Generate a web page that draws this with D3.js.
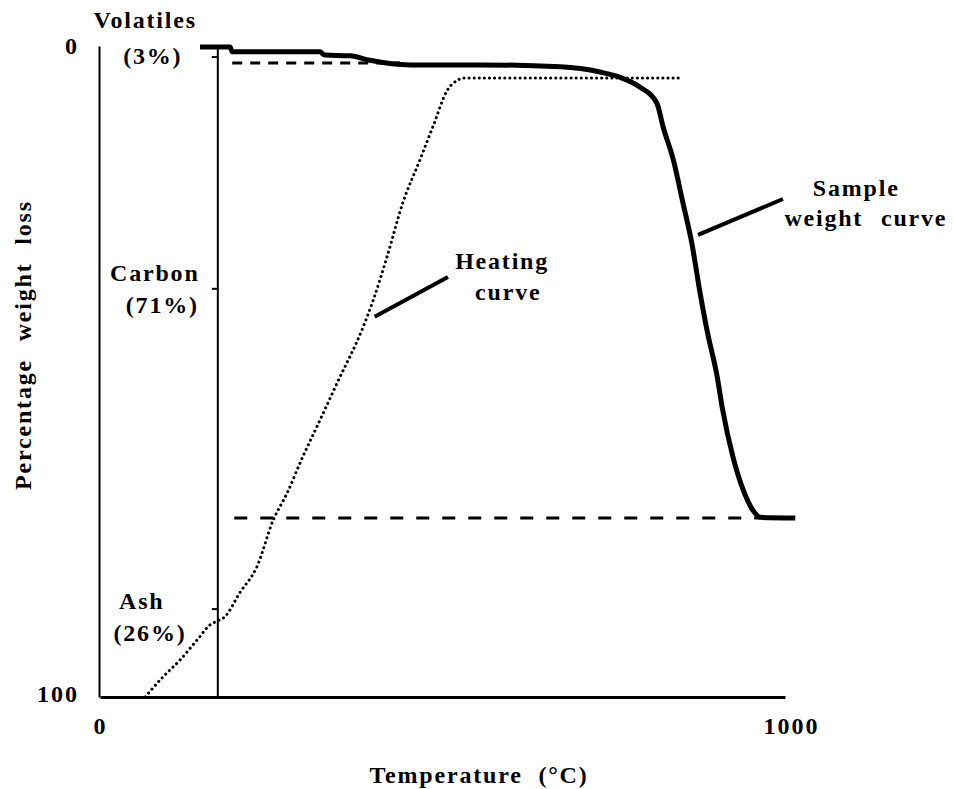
<!DOCTYPE html>
<html>
<head>
<meta charset="utf-8">
<script src="https://cdn.jsdelivr.net/npm/d3@7"></script>
<style>
  body { margin: 0; background: #fff; }
  text { font-family: "Liberation Serif", "Times New Roman", serif; font-weight: bold; fill: #000; }
</style>
</head>
<body>
<svg id="chart" width="954" height="789"></svg>
<script>
// data (temperature in degC, weight loss in %)
var sampleTemp = [146, 190, 193, 321, 328, 365, 394, 453, 555, 672, 730, 759, 788, 813, 822, 837, 851, 864, 876, 886, 901, 909, 924, 939, 953, 964, 1015];
var sampleLoss = [0.15, 0.15, 0.9, 0.9, 1.4, 1.5, 2.2, 2.9, 2.9, 3.2, 4.0, 4.8, 6.3, 8.8, 12.4, 17.5, 24.1, 30.3, 37.9, 43.6, 50.8, 55.9, 63.1, 68.2, 71.3, 72.4, 72.5];

var heatTemp = [66, 92, 117, 142, 161, 172, 182, 204, 229, 253, 273, 296, 321, 346, 384, 399, 419, 442, 467, 486, 507, 523, 530, 847];
var heatLoss = [100, 96.9, 94.3, 91.2, 88.9, 88.3, 87.7, 84.0, 80.0, 72.8, 68.7, 63.1, 57.5, 51.8, 43.2, 39.0, 32.4, 24.1, 17.5, 12.4, 6.8, 5.2, 4.9, 4.9];

// dashed reference levels
var levelLoss = [2.6, 72.5];
var levelFrom = [193, 196];
var levelTo = [438, 964];

// component bar at the left
var barTemp = 172;
var barTicks = [1.7, 37.3, 86.5];
var components = ['Volatiles', 'Carbon', 'Ash'];
var shares = ['(3%)', '(71%)', '(26%)'];

var xTicks = [0, 1000];
var yTicks = [0, 100];

var svg = d3.select('#chart');

var x = d3.scaleLinear().domain([0, 1000]).range([100, 785]);
var y = d3.scaleLinear().domain([0, 100]).range([46, 697]);

var fs = '24px';

// axes
var yAxis = svg.append('g')
    .attr('transform', 'translate(99,0)')
    .call(d3.axisLeft(y).tickValues(yTicks).tickSize(0).tickPadding(20).tickFormat(d3.format('d')));
yAxis.select('.domain').attr('stroke', '#000').attr('stroke-width', 2);
yAxis.selectAll('text').style('font-size', fs).style('letter-spacing', '2px')
    .attr('dy', (d, i) => i == 0 ? '0.3em' : '0.2em');

var xAxis = svg.append('g')
    .attr('transform', 'translate(0,697)')
    .call(d3.axisBottom(x).tickValues(xTicks).tickSize(0).tickPadding(20).tickFormat(d3.format('d')));
xAxis.select('.domain').attr('stroke', '#000').attr('stroke-width', 3);
xAxis.selectAll('text').style('font-size', fs).style('letter-spacing', '2px')
    .attr('dx', (d, i) => i == 1 ? 6 : 0);

svg.append('text')
   .attr('x', 479).attr('y', 783)
   .attr('text-anchor', 'middle')
   .style('font-size', fs).style('letter-spacing', '1.8px').style('word-spacing', '8px')
   .text('Temperature (°C)');

svg.append('text')
   .attr('transform', 'translate(31,345) rotate(-90)')
   .attr('text-anchor', 'middle')
   .style('font-size', fs).style('letter-spacing', '1.8px').style('word-spacing', '10px')
   .text('Percentage weight loss');

// component bar
svg.append('line')
   .attr('x1', x(barTemp)).attr('x2', x(barTemp))
   .attr('y1', y(0.3)).attr('y2', y(100))
   .attr('stroke', '#000').attr('stroke-width', 2);

svg.selectAll('.btick')
   .data(barTicks)
   .enter()
   .append('line')
   .attr('x1', x(barTemp) - 6).attr('x2', x(barTemp))
   .attr('y1', d => y(d)).attr('y2', d => y(d))
   .attr('stroke', '#000').attr('stroke-width', 2);

// component labels (centres in data units)
var labelTemp = [66, 80, 61];
var labelLoss = [-4.0, 34.8, 85.2];
var shareTemp = [77, 91, 73];
var shareLoss = [1.4, 39.8, 90.1];

svg.selectAll('.comp')
   .data(components)
   .enter()
   .append('text')
   .attr('x', (d, i) => x(labelTemp[i]))
   .attr('y', (d, i) => y(labelLoss[i]))
   .attr('dy', '0.35em')
   .attr('text-anchor', 'middle')
   .style('font-size', fs).style('letter-spacing', '1.8px')
   .text(d => d);

svg.selectAll('.share')
   .data(shares)
   .enter()
   .append('text')
   .attr('x', (d, i) => x(shareTemp[i]))
   .attr('y', (d, i) => y(shareLoss[i]))
   .attr('dy', '0.35em')
   .attr('text-anchor', 'middle')
   .style('font-size', fs).style('letter-spacing', '1.8px')
   .text(d => d);

// dashed levels
svg.selectAll('.level')
   .data(levelLoss)
   .enter()
   .append('line')
   .attr('x1', (d, i) => x(levelFrom[i]))
   .attr('x2', (d, i) => x(levelTo[i]))
   .attr('y1', d => y(d)).attr('y2', d => y(d))
   .attr('stroke', '#000').attr('stroke-width', 3)
   .attr('stroke-dasharray', (d, i) => i == 0 ? '10,8' : '13,13');

// heating curve (dotted)
var line = d3.line().x(d => x(d[0])).y(d => y(d[1]));

svg.append('path')
   .datum(d3.zip(heatTemp, heatLoss))
   .attr('d', line.curve(d3.curveMonotoneX))
   .attr('fill', 'none')
   .attr('stroke', '#000').attr('stroke-width', 3)
   .attr('stroke-linecap', 'round')
   .attr('stroke-dasharray', '0.1,5');

// sample weight curve
svg.append('path')
   .datum(d3.zip(sampleTemp, sampleLoss))
   .attr('d', line.curve(d3.curveMonotoneX))
   .attr('fill', 'none')
   .attr('stroke', '#000').attr('stroke-width', 5)
   .attr('stroke-linejoin', 'round');

// annotations
var noteText = [['Heating', 'curve'], ['Sample', 'weight curve']];
var noteTemp = [[587, 596], [1104, 1118]];
var noteLoss = [[33.0, 37.8], [21.7, 26.3]];
var leaderTemp = [[401, 508], [873, 997]];
var leaderLoss = [[41.6, 35.5], [29.0, 23.5]];

noteText.forEach(function (lines, i) {
  svg.append('line')
     .attr('x1', x(leaderTemp[i][0])).attr('y1', y(leaderLoss[i][0]))
     .attr('x2', x(leaderTemp[i][1])).attr('y2', y(leaderLoss[i][1]))
     .attr('stroke', '#000').attr('stroke-width', 4);
  lines.forEach(function (t, j) {
    svg.append('text')
       .attr('x', x(noteTemp[i][j])).attr('y', y(noteLoss[i][j]))
       .attr('dy', '0.35em')
       .attr('text-anchor', 'middle')
       .style('font-size', fs).style('letter-spacing', '1.8px').style('word-spacing', '10px')
       .text(t);
  });
});
</script>
</body>
</html>
